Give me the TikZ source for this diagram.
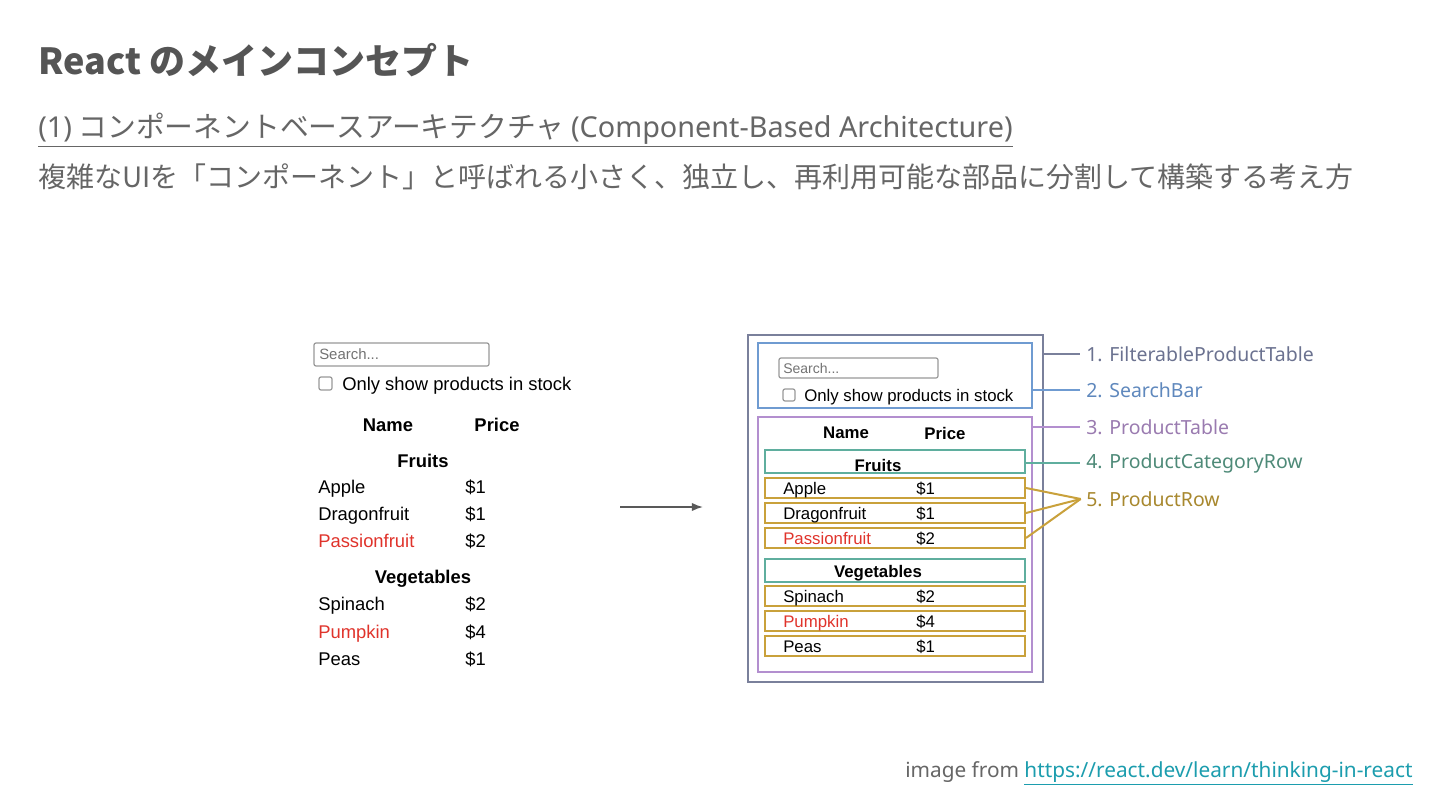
\documentclass[tikz,border=0pt]{standalone}
\usepackage{fontspec}
\setmainfont{Liberation Sans}
\newfontfamily\jpfont{Noto Sans CJK JP}
\newfontfamily\labfont{Noto Sans}
\usepackage{xcolor}
\usepackage{tikz}
\usetikzlibrary{arrows.meta,positioning,calc,fit}

\definecolor{titlec}{HTML}{555555}
\definecolor{bodyc}{HTML}{666666}
\definecolor{linkc}{HTML}{1C9DAE}
\definecolor{fptc}{HTML}{7A809B}
\definecolor{sbarc}{HTML}{6F9BD1}
\definecolor{ptabc}{HTML}{B38FCF}
\definecolor{catc}{HTML}{5FAE9E}
\definecolor{rowc}{HTML}{C9A13B}
\definecolor{labfpt}{HTML}{6B7290}
\definecolor{labsbar}{HTML}{5F88BD}
\definecolor{labptab}{HTML}{9A7BB0}
\definecolor{labcat}{HTML}{4E8A78}
\definecolor{labrow}{HTML}{A8882E}
\definecolor{fruitred}{HTML}{E0332B}

\begin{document}
\begin{tikzpicture}[x=0.75pt,y=-0.75pt,>=Latex,
  ui/.style={font=\fontsize{13.8}{16}\selectfont,inner sep=0pt},
  uis/.style={font=\fontsize{12.6}{15}\selectfont,inner sep=0pt},
  uib/.style={ui,font=\fontsize{13.8}{16}\selectfont\bfseries},
  uisb/.style={uis,font=\fontsize{12.6}{15}\selectfont\bfseries},
  cbox/.style={draw=#1,line width=1.5pt,inner sep=0pt},
  inbox/.style={draw=black!40,line width=0.9pt,rounded corners=1.5pt,inner sep=0pt},
  lab/.style={font=\labfont\fontsize{14.6}{17}\selectfont,anchor=west,inner sep=0pt},
  lead/.style={line width=1.5pt}]
\useasboundingbox[fill=white] (0,0) rectangle (1440,810);

% ---- slide text ----
\node[anchor=base west,inner sep=0pt,text=titlec,
  font=\jpfont\bfseries\fontsize{27}{32}\selectfont] (title) at (38,74) {React のメインコンセプト};
\node[anchor=base west,inner sep=0pt,text=bodyc,
  font=\jpfont\fontsize{21.6}{24}\selectfont] (sub) at (38,137)
  {\underline{{\labfont(1)} コンポーネントベースアーキテクチャ {\labfont(Component-Based Architecture)}}};
\node[anchor=base west,inner sep=0pt,text=bodyc,
  font=\jpfont\fontsize{21}{24}\selectfont] (desc) at (38,187)
  {複雑なUIを「コンポーネント」と呼ばれる小さく、独立し、再利用可能な部品に分割して構築する考え方};

% ---- left: the plain page ----
\node[inbox,fit={(314,343) (489,366)}] (lsearch) {};
\node[anchor=mid west,inner sep=0pt,text=black!55,font=\fontsize{11.2}{13}\selectfont] (lsearcht) at (319,356) {Search...};
\node[inbox,fit={(319,377) (332,390)}] (lchk) {};
\node[ui,anchor=mid west] (lonly) at (342,387) {Only show products in stock};
\node[uib] (lname) at (388,425) {Name};
\node[uib] (lprice) at (497,425) {Price};
\node[uib] (lfruits) at (423,461) {Fruits};
\node[uib] (lveg) at (423,579) {Vegetables};
\foreach \y/\nm/\pr/\cl in {490/Apple/1/black,517/Dragonfruit/1/black,544/Passionfruit/2/fruitred,
                           607/Spinach/2/black,635/Pumpkin/4/fruitred,662/Peas/1/black}
  {\node[ui,anchor=mid west,text=\cl] (ln\y) at (318,\y) {\nm};
   \node[ui,anchor=mid west] (lp\y) at (465,\y) {\$\pr};}

% ---- arrow ----
\coordinate (arrs) at (620,507);
\coordinate (arre) at (703,507);
\draw[->,black!65,line width=1.2pt] (arrs) -- (arre);

% ---- right: the same page split in components ----
\node[cbox=fptc,fit={(748,335) (1043,682)}] (fpt) {};
\node[cbox=sbarc,fit={(758,343) (1032,408)}] (sbar) {};
\node[inbox,fit={(779,358) (938,378)}] (rsearch) {};
\node[anchor=mid west,inner sep=0pt,text=black!55,font=\fontsize{10.5}{12}\selectfont] (rsearcht) at (783,370) {Search...};
\node[inbox,fit={(783,389) (795,401)}] (rchk) {};
\node[uis,anchor=mid west] (ronly) at (804,398) {Only show products in stock};
\node[cbox=ptabc,fit={(758,417) (1032,672)}] (ptab) {};
\node[uisb] (rname) at (846,433) {Name};
\node[uisb] (rprice) at (945,433) {Price};
\node[cbox=catc,fit={(765,450) (1025,473)}] (cat1) {};
\node[uisb] (rfruits) at (878,465) {Fruits};
\node[cbox=catc,fit={(765,559) (1025,582)}] (cat2) {};
\node[uisb] (rveg) at (878,573) {Vegetables};
\foreach \i/\y/\nm/\pr/\cl in {1/478/Apple/1/black,2/503/Dragonfruit/1/black,3/528/Passionfruit/2/fruitred,
                               4/586/Spinach/2/black,5/611/Pumpkin/4/fruitred,6/636/Peas/1/black}
  {\node[cbox=rowc,fit={(765,\y) (1025,\y+20)}] (row\i) {};
   \node[uis,anchor=mid west,text=\cl] (rn\i) at (783,\y+12.5) {\nm};
   \node[uis,anchor=mid west] (rp\i) at (916,\y+12.5) {\$\pr};}

% ---- component names ----
\node[lab,text=labfpt] (lab1) at (1086,354) {1. FilterableProductTable};
\node[lab,text=labsbar] (lab2) at (1086,390) {2. SearchBar};
\node[lab,text=labptab] (lab3) at (1086,427) {3. ProductTable};
\node[lab,text=labcat] (lab4) at (1086,463) {4. ProductCategoryRow};
\node[lab,text=labrow] (lab5) at (1086,499) {5. ProductRow};
\draw[lead,fptc] (fpt.east |- lab1) -- ([xshift=-4.5pt]lab1.west);
\draw[lead,sbarc] (sbar.east |- lab2) -- ([xshift=-4.5pt]lab2.west);
\draw[lead,ptabc] (ptab.east |- lab3) -- ([xshift=-4.5pt]lab3.west);
\draw[lead,catc] (cat1.east |- lab4) -- ([xshift=-4.5pt]lab4.west);
\foreach \i in {1,2,3}
  \draw[lead,rowc] (row\i.east) -- ([xshift=-4pt]lab5.west);

% ---- source ----
\node[anchor=base west,inner sep=0pt,font=\labfont\fontsize{15.6}{18}\selectfont,text=bodyc] (src) at (905,777)
  {image from \textcolor{linkc}{\underline{https://react.dev/learn/thinking-in-react}}};
\end{tikzpicture}
\end{document}
